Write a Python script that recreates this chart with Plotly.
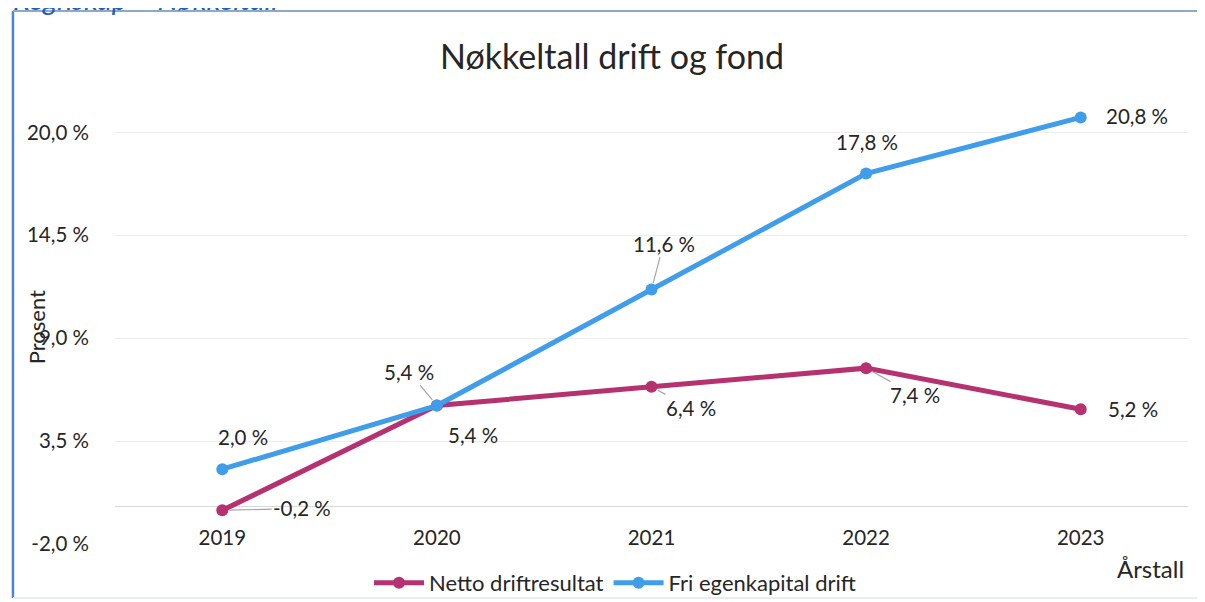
import plotly.graph_objects as go

# ---- data ----
years = [2019, 2020, 2021, 2022, 2023]
year_labels = ["2019", "2020", "2021", "2022", "2023"]
netto = [-0.2, 5.4, 6.4, 7.4, 5.2]
fri = [2.0, 5.4, 11.6, 17.8, 20.8]
y_ticks = [-2.0, 3.5, 9.0, 14.5, 20.0]
series_names = ["Netto driftresultat", "Fri egenkapital drift"]
chart_title = "Nøkkeltall drift og fond"

# ---- styles ----
FONT = "Lato, 'Open Sans', sans-serif"
TXT = "#262626"
C_NETTO = "#B5316F"
C_FRI = "#3F9DEA"
W, H = 1197, 594

def fmt(v):
    return f"{v:.1f}".replace(".", ",") + " %"

fig = go.Figure()
fig.add_trace(go.Scatter(x=years, y=netto, mode="lines+markers", name=series_names[0],
                         line=dict(color=C_NETTO, width=5),
                         marker=dict(size=12, color=C_NETTO)))
fig.add_trace(go.Scatter(x=years, y=fri, mode="lines+markers", name=series_names[1],
                         line=dict(color=C_FRI, width=5),
                         marker=dict(size=12, color=C_FRI)))

# label placement styles: (arrow?, dx, dy) in pixels (dy positive = down)
netto_pos = [(True, 80, -2), (False, 36, 29), (True, 39, 21), (True, 49, 27), (False, 52, 0)]
fri_pos = [(False, 21, -32), (True, -28, -34), (True, 12, -46), (False, 1, -32), (False, 56, -1)]

annotations = []
for vals, pos in ((netto, netto_pos), (fri, fri_pos)):
    for x, v, (arrow, dx, dy) in zip(years, vals, pos):
        if arrow:
            annotations.append(dict(x=x, y=v, xref="x", yref="y", text=fmt(v), showarrow=True,
                                    ax=dx, ay=dy, arrowhead=0, arrowwidth=1.2,
                                    arrowcolor="#A6A6A6", standoff=7,
                                    font=dict(family=FONT, size=20.5, color=TXT)))
        else:
            annotations.append(dict(x=x, y=v, xref="x", yref="y", text=fmt(v), showarrow=False,
                                    xshift=dx, yshift=-dy,
                                    font=dict(family=FONT, size=20.5, color=TXT)))

# axis titles
annotations.append(dict(text="Prosent", xref="paper", yref="paper", x=-0.0735, y=0.483,
                        xanchor="center", yanchor="middle",
                        textangle=-90, showarrow=False,
                        font=dict(family=FONT, size=22, color=TXT)))
annotations.append(dict(text="Årstall", xref="paper", yref="paper", x=0.9646, y=-0.055,
                        xanchor="center", yanchor="middle",
                        showarrow=False, font=dict(family=FONT, size=24, color=TXT)))
# cropped page heading
annotations.append(dict(text="<i>Regnskap – Nøkkeltall</i>", xref="paper", yref="paper",
                        x=-0.097, y=1.172, xanchor="left", yanchor="bottom", showarrow=False,
                        font=dict(family=FONT, size=29, color="#1F5FB8")))

fig.update_layout(
    width=W, height=H,
    margin=dict(l=107, r=17, t=87, b=58, autoexpand=False),
    paper_bgcolor="white", plot_bgcolor="white",
    separators=", ",
    title=dict(text=chart_title, xref="container", x=(612 - 8) / W, xanchor="center",
               y=1 - 49 / H, yanchor="middle",
               font=dict(family=FONT, size=34, color=TXT)),
    xaxis=dict(range=[2018.5, 2023.5], tickvals=years, ticktext=year_labels,
               showgrid=False, showline=False, zeroline=False, ticks="",
               anchor="free", position=0.045,
               tickfont=dict(family=FONT, size=20.5, color=TXT)),
    yaxis=dict(range=[-2, 22], tickvals=y_ticks, ticktext=[fmt(v) for v in y_ticks],
               showgrid=True, gridcolor="#EDEDED", gridwidth=1,
               zeroline=True, zerolinecolor="#D9D9D9", zerolinewidth=1,
               showline=False, ticks="", ticklabelstandoff=25,
               tickfont=dict(family=FONT, size=20.5, color=TXT)),
    legend=dict(orientation="h", x=0.466, xanchor="center", y=-0.087, yanchor="middle",
                itemwidth=50, font=dict(family=FONT, size=22, color=TXT),
                bgcolor="rgba(0,0,0,0)"),
    annotations=annotations,
    shapes=[
        dict(type="line", xref="paper", yref="paper", x0=-0.0951, x1=-0.0951, y0=-0.1203, y1=1.187,
             line=dict(color="#4C84D6", width=2.5)),
        dict(type="line", xref="paper", yref="paper", x0=-0.0951, x1=1.03, y0=1.187, y1=1.187,
             line=dict(color="#8FA8C8", width=2)),
        dict(type="line", xref="paper", yref="paper", x0=-0.0951, x1=1.03, y0=-0.1203, y1=-0.1203,
             line=dict(color="#E6EDF5", width=2)),
    ],
)

fig.write_html("out.html")
